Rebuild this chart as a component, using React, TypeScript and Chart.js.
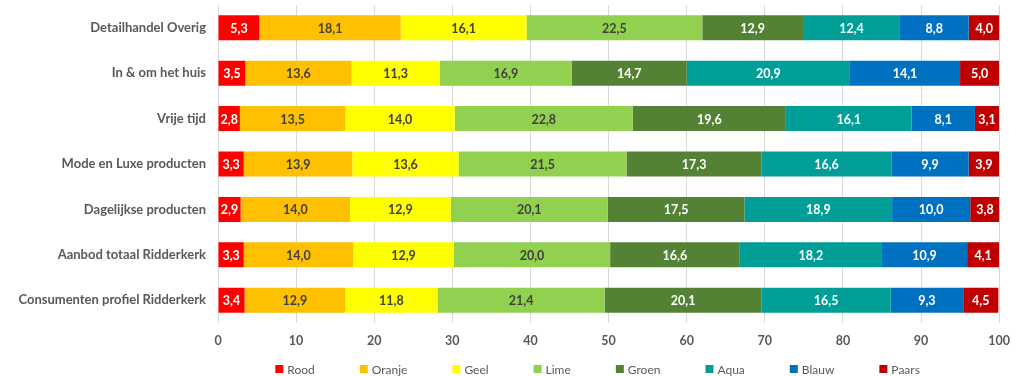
import React, { useEffect, useRef } from 'react';
import { Chart, registerables } from 'chart.js';

Chart.register(...registerables);

const categories = [
  'Detailhandel Overig',
  'In & om het huis',
  'Vrije tijd',
  'Mode en Luxe producten',
  'Dagelijkse producten',
  'Aanbod totaal Ridderkerk',
  'Consumenten profiel Ridderkerk',
];
const seriesNames = ['Rood', 'Oranje', 'Geel', 'Lime', 'Groen', 'Aqua', 'Blauw', 'Paars'];
const rood = [5.3, 3.5, 2.8, 3.3, 2.9, 3.3, 3.4];
const oranje = [18.1, 13.6, 13.5, 13.9, 14.0, 14.0, 12.9];
const geel = [16.1, 11.3, 14.0, 13.6, 12.9, 12.9, 11.8];
const lime = [22.5, 16.9, 22.8, 21.5, 20.1, 20.0, 21.4];
const groen = [12.9, 14.7, 19.6, 17.3, 17.5, 16.6, 20.1];
const aqua = [12.4, 20.9, 16.1, 16.6, 18.9, 18.2, 16.5];
const blauw = [8.8, 14.1, 8.1, 9.9, 10.0, 10.9, 9.3];
const paars = [4.0, 5.0, 3.1, 3.9, 3.8, 4.1, 4.5];
const xTicks = [0, 10, 20, 30, 40, 50, 60, 70, 80, 90, 100];

const seriesValues = [rood, oranje, geel, lime, groen, aqua, blauw, paars];
const seriesColors = ['#FF0000', '#FFC000', '#FFFF00', '#92D050', '#548235', '#009E96', '#0070C0', '#C00000'];
const labelColors = ['#FFFFFF', '#404040', '#404040', '#404040', '#FFFFFF', '#FFFFFF', '#FFFFFF', '#FFFFFF'];

const FONT = 'Lato, "Liberation Sans", sans-serif';
const fmt = (v: number) => v.toFixed(1).replace('.', ',');

const dataLabelPlugin = {
  id: 'dataLabels',
  afterDatasetsDraw(chart: any) {
    const ctx = chart.ctx;
    ctx.save();
    ctx.font = `bold 12.5px ${FONT}`;
    ctx.textAlign = 'center';
    ctx.textBaseline = 'middle';
    chart.data.datasets.forEach((ds: any, di: number) => {
      const meta = chart.getDatasetMeta(di);
      ctx.fillStyle = labelColors[di];
      meta.data.forEach((el: any, i: number) => {
        const cx = (el.x + el.base) / 2;
        ctx.fillText(fmt(ds.data[i]), cx, el.y + 1);
      });
    });
    ctx.restore();
  },
};

const legendPlugin = {
  id: 'customLegend',
  afterDraw(chart: any) {
    const ctx = chart.ctx;
    ctx.save();
    ctx.font = `12px ${FONT}`;
    ctx.textBaseline = 'middle';
    const box = 8;
    const gapText = 4;
    const gapItem = 45;
    const widths = seriesNames.map((n) => box + gapText + ctx.measureText(n).width);
    const total = widths.reduce((a, b) => a + b, 0) + gapItem * (seriesNames.length - 1);
    const area = chart.chartArea;
    let x = (area.left + area.right) / 2 - total / 2 - 11;
    const y = 369;
    seriesNames.forEach((n, i) => {
      ctx.fillStyle = seriesColors[i];
      ctx.fillRect(x, y - box / 2, box, box);
      ctx.fillStyle = '#595959';
      ctx.textAlign = 'left';
      ctx.fillText(n, x + box + gapText, y + 1);
      x += widths[i] + gapItem;
    });
    ctx.restore();
  },
};

export default function App() {
  const ref = useRef<HTMLCanvasElement | null>(null);
  useEffect(() => {
    if (!ref.current) return;
    const chart = new Chart(ref.current, {
      type: 'bar',
      data: {
        labels: categories,
        datasets: seriesNames.map((name, i) => ({
          label: name,
          data: seriesValues[i],
          backgroundColor: seriesColors[i],
          borderWidth: 0,
          barPercentage: 0.55,
          categoryPercentage: 1,
        })),
      },
      options: {
        indexAxis: 'y',
        responsive: false,
        animation: false,
        events: [],
        layout: { padding: { left: 0, right: 16, top: 5, bottom: 28 } },
        plugins: {
          legend: { display: false },
          tooltip: { enabled: false },
        },
        scales: {
          x: {
            stacked: true,
            min: 0,
            max: 100,
            afterBuildTicks: (scale: any) => {
              scale.ticks = xTicks.map((v) => ({ value: v }));
            },
            afterFit: (scale: any) => {
              scale.height = 25;
            },
            grid: { color: '#D9D9D9', drawTicks: false, lineWidth: 1 },
            border: { display: false },
            ticks: {
              padding: 10,
              color: '#595959',
              font: { family: FONT, size: 12.5, weight: 'bold' },
            },
          },
          y: {
            stacked: true,
            afterFit: (scale: any) => {
              scale.width = 218;
              scale.paddingTop = 0;
              scale.paddingBottom = 0;
            },
            grid: { display: false, drawTicks: false },
            border: { display: false },
            ticks: {
              padding: 12,
              color: '#595959',
              font: { family: FONT, size: 13, weight: 'bold' },
            },
          },
        },
      },
      plugins: [dataLabelPlugin, legendPlugin],
    } as any);
    return () => chart.destroy();
  }, []);
  return (
    <div style={{ position: 'absolute', left: 0, top: 0, width: 1020, height: 376 }}>
      <canvas ref={ref} width={1020} height={376} style={{ display: 'block' }} />
    </div>
  );
}
